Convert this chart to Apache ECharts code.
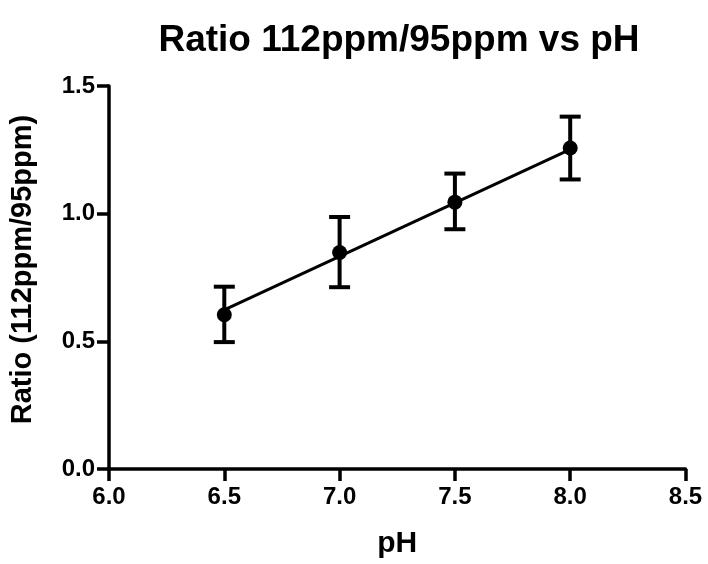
<!DOCTYPE html>
<html>
<head>
<meta charset="utf-8">
<script src="https://cdn.jsdelivr.net/npm/echarts@6/dist/echarts.min.js"></script>
<style>html,body{margin:0;padding:0;background:#fff}#c{width:708px;height:564px}</style>
</head>
<body>
<div id="c"></div>
<script>
var titleText = 'Ratio 112ppm/95ppm vs pH';
var xName = 'pH';
var yName = 'Ratio (112ppm/95ppm)';
var pH = [6.5, 7.0, 7.5, 8.0];
var ratioMean = [0.604, 0.848, 1.045, 1.257];
var ratioLow = [0.497, 0.712, 0.939, 1.134];
var ratioHigh = [0.714, 0.987, 1.157, 1.380];
var fitX = [6.5, 8.0];
var fitY = [0.623, 1.252];

var FONT = '"Liberation Sans", Arial, sans-serif';
var chart = echarts.init(document.getElementById('c'));

var pts = pH.map(function (x, i) { return [x, ratioMean[i]]; });
var errs = pH.map(function (x, i) { return [x, ratioLow[i], ratioHigh[i]]; });
var fit = fitX.map(function (x, i) { return [x, fitY[i]]; });

chart.setOption({
  animation: false,
  backgroundColor: '#fff',
  title: {
    text: titleText,
    left: 394, top: 17, textAlign: 'center',
    textStyle: { fontFamily: FONT, fontWeight: 'bold', fontSize: 37, color: '#000' }
  },
  grid: { left: 109, right: 22.5, top: 86, bottom: 93 },
  xAxis: {
    type: 'value', min: 6, max: 8.5, interval: 0.5,
    name: xName, nameLocation: 'middle', nameGap: 60,
    nameTextStyle: { fontFamily: FONT, fontWeight: 'bold', fontSize: 30, color: '#000' },
    axisLine: { lineStyle: { color: '#000', width: 3.5 } },
    axisTick: { length: 12, lineStyle: { color: '#000', width: 3.5 } },
    axisLabel: { margin: 16, fontFamily: FONT, fontWeight: 'bold', fontSize: 24, color: '#000',
      formatter: function (v) { return v.toFixed(1); } },
    splitLine: { show: false }
  },
  yAxis: {
    type: 'value', min: 0, max: 1.5, interval: 0.5,
    name: yName, nameLocation: 'middle', nameGap: 72, nameRotate: 90,
    nameTextStyle: { fontFamily: FONT, fontWeight: 'bold', fontSize: 29, color: '#000', padding: [0, 0, 0, 16] },
    axisLine: { show: true, lineStyle: { color: '#000', width: 3.5 } },
    axisTick: { show: true, length: 12, lineStyle: { color: '#000', width: 3.5 } },
    axisLabel: { margin: 14, fontFamily: FONT, fontWeight: 'bold', fontSize: 24, color: '#000',
      formatter: function (v) { return v.toFixed(1); } },
    splitLine: { show: false }
  },
  series: [
    {
      type: 'line', data: fit, symbol: 'none',
      lineStyle: { color: '#000', width: 3 }, z: 2
    },
    {
      type: 'custom', data: errs, z: 3,
      renderItem: function (params, api) {
        var x = api.value(0);
        var lo = api.coord([x, api.value(1)]);
        var hi = api.coord([x, api.value(2)]);
        var hw = 10.5;
        var st = { stroke: '#000', lineWidth: 4 };
        return {
          type: 'group',
          children: [
            { type: 'line', shape: { x1: lo[0], y1: lo[1], x2: hi[0], y2: hi[1] }, style: st },
            { type: 'line', shape: { x1: lo[0] - hw, y1: lo[1], x2: lo[0] + hw, y2: lo[1] }, style: st },
            { type: 'line', shape: { x1: hi[0] - hw, y1: hi[1], x2: hi[0] + hw, y2: hi[1] }, style: st }
          ]
        };
      }
    },
    {
      type: 'scatter', data: pts, symbol: 'circle', symbolSize: 15,
      itemStyle: { color: '#000', opacity: 1 }, z: 4
    }
  ]
});
</script>
</body>
</html>
